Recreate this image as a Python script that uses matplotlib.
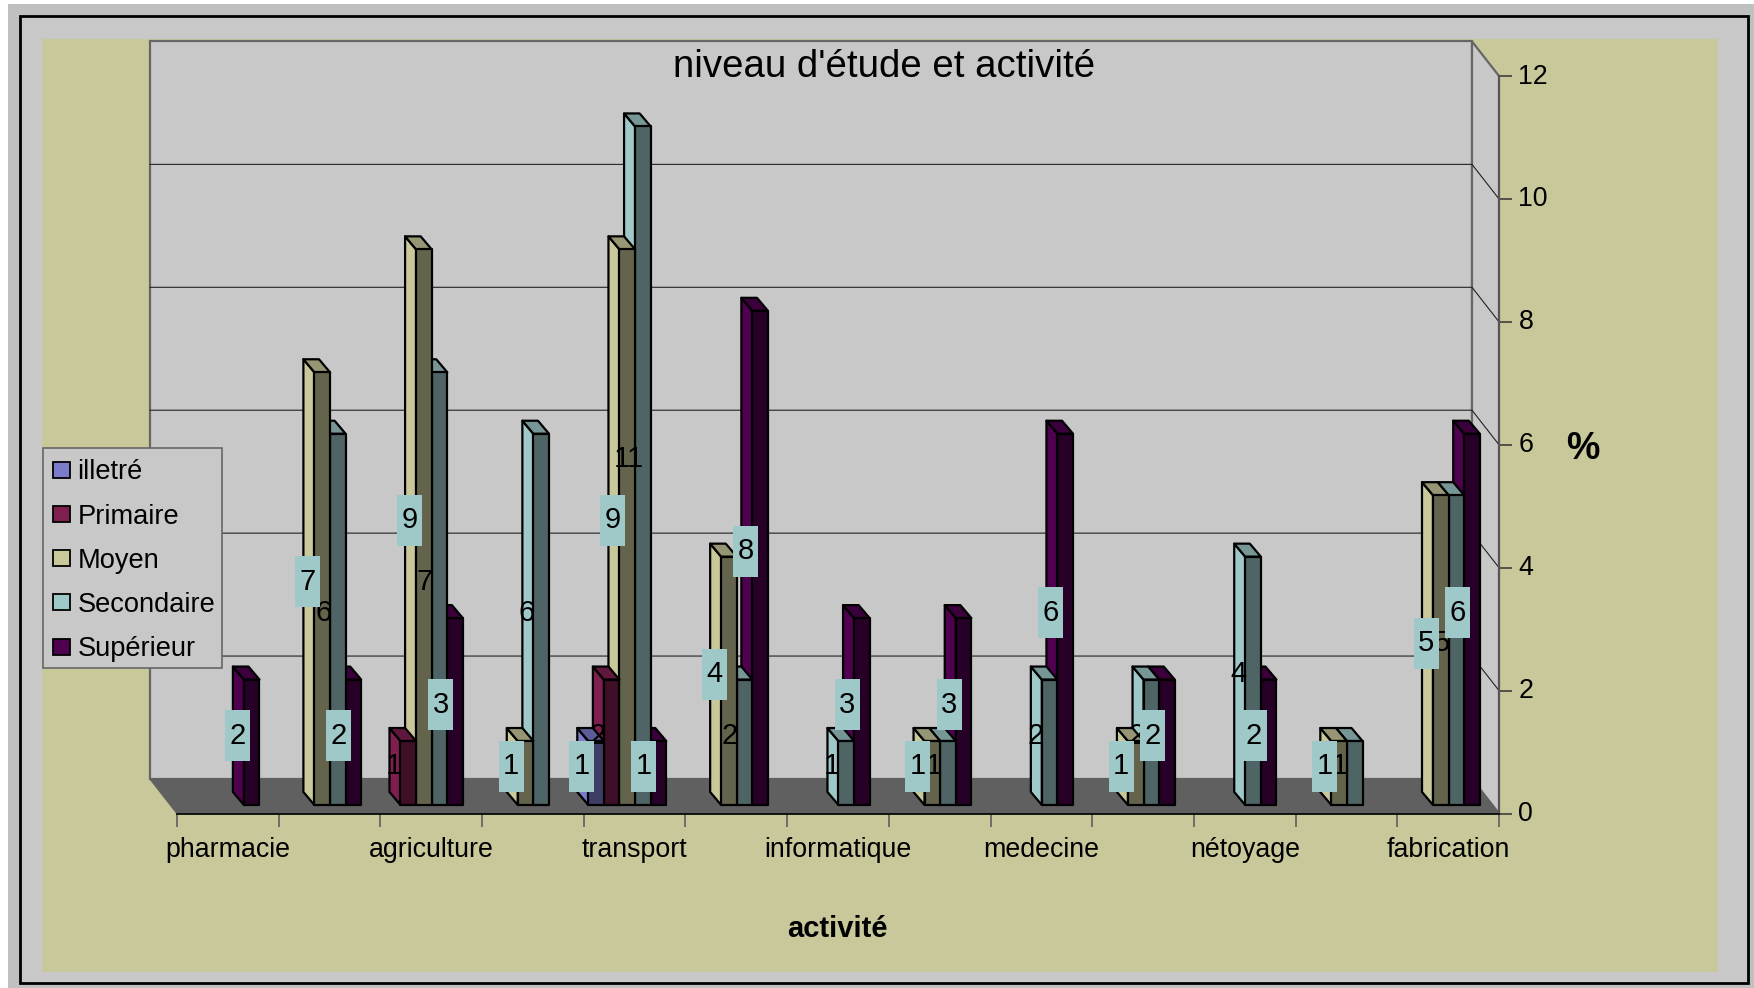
import matplotlib
matplotlib.use("Agg")
import matplotlib.pyplot as plt
from matplotlib.patches import Polygon, Rectangle, Patch
from matplotlib.transforms import ScaledTranslation

plt.rcParams["font.family"] = ["Liberation Sans", "DejaVu Sans"]

categories = ["pharmacie", "", "agriculture", "", "transport", "", "informatique", "",
              "medecine", "", "nétoyage", "", "fabrication"]
illetre = [0, 0, 0, 0, 1, 0, 0, 0, 0, 0, 0, 0, 0]
primaire = [0, 0, 1, 0, 2, 0, 0, 0, 0, 0, 0, 0, 0]
moyen = [0, 7, 9, 1, 9, 4, 0, 1, 0, 1, 0, 1, 5]
secondaire = [0, 6, 7, 6, 11, 2, 1, 1, 2, 2, 4, 1, 5]
superieur = [2, 2, 3, 0, 1, 8, 3, 3, 6, 2, 2, 0, 6]
series = [illetre, primaire, moyen, secondaire, superieur]
series_names = ["illetré", "Primaire", "Moyen", "Secondaire", "Supérieur"]

side_colors = ["#7B7BCC", "#7F1F4F", "#C8C89B", "#9FC8C8", "#4F004F"]
top_colors = ["#5C5C99", "#5F173B", "#969674", "#779696", "#3B003B"]
front_colors = ["#3D3D66", "#3F0F27", "#64644D", "#4F6464", "#270027"]
boxed = [True, False, True, False, True]

KHAKI = "#C8C89B"
GREY = "#C8C8C8"
FONT = 19.3

# px per unit of the value/category axes
UX = 101.7
UY = 61.4
wall_dx, wall_dy = -27 / UX, 34.5 / UY
bar_dx, bar_dy = -11 / UX, 13 / UY
bar_w = 15.6 / UX
bar_x0 = 4.5 / UX
bar_y0 = 8.5 / UY
bar_extra = 2.5 / UY
box_w, box_h = 25 / UX, 51 / UY
lab_dx, lab_dy = -14.5 / UX, 8 / UY

fig = plt.figure(figsize=(17.54, 9.88), dpi=100, facecolor="#C0C0C0")

# background frame, in pixels
bg = fig.add_axes([0, 0, 1, 1], zorder=0)
bg.set_xlim(0, 1754)
bg.set_ylim(988, 0)
bg.axis("off")
bg.add_patch(Rectangle((0, 0), 1754, 4, fc="white", ec="none"))
bg.add_patch(Rectangle((0, 0), 8, 988, fc="white", ec="none"))
bg.add_patch(Rectangle((20, 16), 1728, 967, fc=GREY, ec="black", lw=2))
bg.add_patch(Rectangle((42, 39), 1676, 933, fc=KHAKI, ec="none"))

ax = fig.add_axes([177 / 1754, (988 - 813.5) / 988, 1322 / 1754, 737.5 / 988], zorder=1)
ax.set_xlim(0, 13)
ax.set_ylim(0, 12)
ax.patch.set_visible(False)

# walls and floor
top = 12 + wall_dy
ax.add_patch(Polygon([(wall_dx, wall_dy), (13 + wall_dx, wall_dy), (13 + wall_dx, top), (wall_dx, top)],
                     fc=GREY, ec="#666666", lw=1.6, clip_on=False, zorder=1))
ax.add_patch(Polygon([(13 + wall_dx, wall_dy), (13, 0), (13, 12), (13 + wall_dx, top)],
                     fc=GREY, ec="#666666", lw=1.6, clip_on=False, zorder=1))
ax.add_patch(Polygon([(wall_dx, wall_dy), (13 + wall_dx, wall_dy), (13, 0), (0, 0)],
                     fc="#606060", ec="#606060", lw=1, clip_on=False, zorder=1))
for v in range(2, 12, 2):
    ax.plot([wall_dx, 13 + wall_dx, 13], [v + wall_dy, v + wall_dy, v], color="#222222", lw=0.8,
            clip_on=False, zorder=1.5)

# bars, right to left so the nearer ones cover the others
for s in range(4, -1, -1):
    for i, v in enumerate(series[s]):
        if v == 0:
            continue
        x = i + bar_x0 + s * bar_w
        y = bar_y0
        h = v + bar_extra
        kw = dict(ec="black", lw=1.6, clip_on=False, zorder=2, joinstyle="round")
        ax.add_patch(Polygon([(x, y), (x + bar_dx, y + bar_dy), (x + bar_dx, y + bar_dy + h), (x, y + h)],
                             fc=side_colors[s], **kw))
        ax.add_patch(Polygon([(x, y + h), (x + bar_dx, y + h + bar_dy), (x + bar_w + bar_dx, y + h + bar_dy),
                              (x + bar_w, y + h)], fc=top_colors[s], **kw))
        ax.add_patch(Rectangle((x, y), bar_w, h, fc=front_colors[s], **kw))

# data labels: plain ones first, boxed ones over them
for want_box in [False, True]:
    for s in range(5):
        if boxed[s] != want_box:
            continue
        for i, v in enumerate(series[s]):
            if v == 0:
                continue
            cx = i + bar_x0 + (s + 0.5) * bar_w + lab_dx
            cy = bar_y0 + v / 2 + lab_dy
            if want_box:
                ax.add_patch(Rectangle((cx - box_w / 2, cy - box_h / 2), box_w, box_h, fc="#9FC8C8",
                                       ec="none", clip_on=False, zorder=3))
            ax.text(cx, cy, str(v), ha="center", va="center", fontsize=21, color="black", zorder=3)

# axes
for side in ["top", "left"]:
    ax.spines[side].set_visible(False)
ax.spines["right"].set_color("#555555")
ax.spines["right"].set_linewidth(1.5)
ax.spines["bottom"].set_color("black")
ax.spines["bottom"].set_linewidth(1.2)
ax.spines["right"].set_zorder(2.5)
ax.spines["bottom"].set_zorder(2.5)

ax.set_xticks(range(14))
ax.set_xticklabels([])
ax.set_xticks([i + 0.5 for i in range(13)], categories, minor=True)
ax.tick_params(axis="x", which="major", length=9, width=1.1, color="#555555")
ax.tick_params(axis="x", which="minor", length=0, pad=17, labelsize=FONT)
ax.yaxis.tick_right()
ax.set_yticks(range(0, 13, 2))
ax.tick_params(axis="y", length=9, width=1.1, color="#333333", pad=5, labelsize=FONT)
for t in ax.get_yticklabels():
    t.set_transform(t.get_transform() + ScaledTranslation(0, 2.5 / 100, fig.dpi_scale_trans))

ax.text(6.95, 12.14, "niveau d'étude et activité", ha="center", va="center", fontsize=27.6, zorder=4)
ax.set_xlabel("activité", fontsize=21, fontweight="bold")
ax.xaxis.set_label_coords((837 - 177) / 1322, (813.5 - 929) / 737.5)
ax.xaxis.label.set_verticalalignment("center")
ax.set_ylabel("%", fontsize=27, fontweight="bold", rotation=0, ha="center", va="center")
ax.yaxis.set_label_position("right")
ax.yaxis.set_label_coords((1583 - 177) / 1322, (813.5 - 431) / 737.5)

# legend box drawn by hand so it keeps its size
ax.add_patch(Rectangle((42.5 / 1754, 1 - 668 / 988), 179.5 / 1754, 220 / 988, transform=fig.transFigure,
                       fc=GREY, ec="#666666", lw=1.2, clip_on=False, zorder=4.9))
handles = [Patch(fc=side_colors[s], ec="black", lw=1.3) for s in range(5)]
leg = ax.legend(handles, series_names, loc="upper left", bbox_to_anchor=(42.5 / 1754, 1 - 448.5 / 988),
                bbox_transform=fig.transFigure, borderaxespad=0, fontsize=19.6, frameon=False,
                handlelength=0.6, handleheight=0.53, handletextpad=0.28, labelspacing=0.67, borderpad=0.4)
leg.set_zorder(5)

plt.savefig("out.png", dpi=100, facecolor=fig.get_facecolor())
